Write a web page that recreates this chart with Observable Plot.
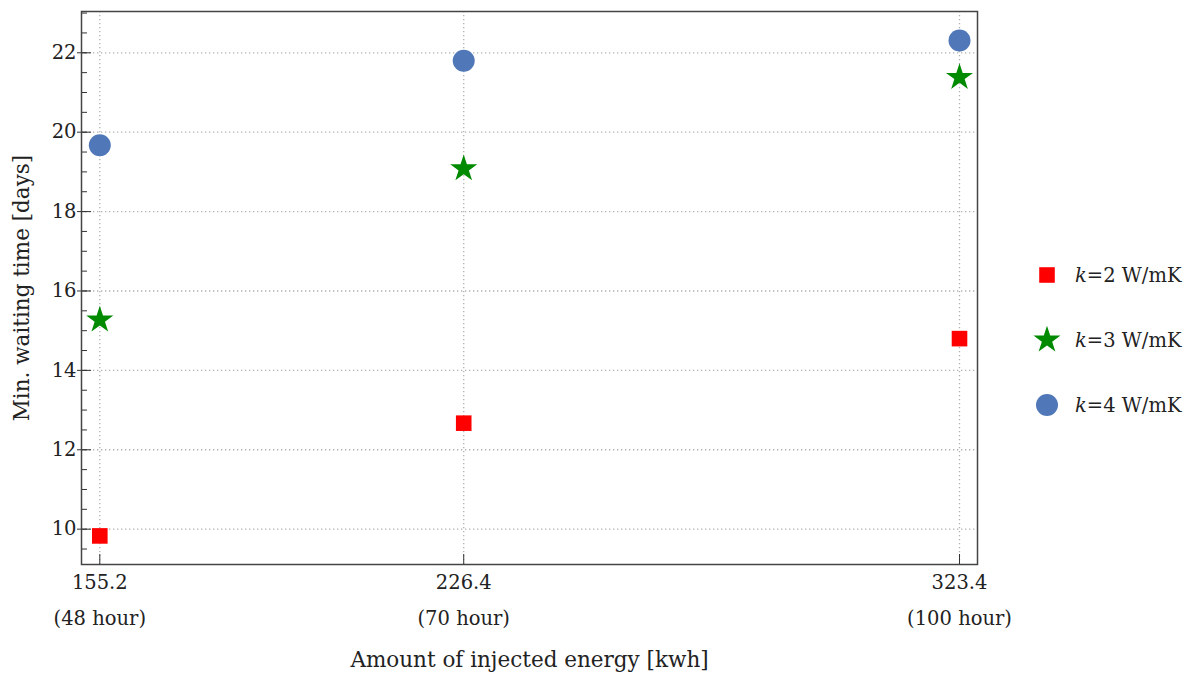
<!DOCTYPE html>
<html>
<head>
<meta charset="utf-8">
<script src="https://cdn.jsdelivr.net/npm/d3@7"></script>
<script src="https://cdn.jsdelivr.net/npm/@observablehq/plot@0.6"></script>
<style>
  body { margin: 0; background: #fff; }
  #wrap { position: relative; width: 1189px; height: 674px; font-family: "DejaVu Serif", serif; color: #222; }
  #legend { position: absolute; left: 1030px; top: 0; }
  .item { position: absolute; left: 0; height: 30px; display: flex; align-items: center; white-space: nowrap; font-size: 19.5px; }
  .item svg { width: 34px; height: 30px; margin-right: 11px; }
</style>
</head>
<body>
<div id="wrap"><div id="legend"></div></div>
<script>
// ---- data ----
const energy = [155.2, 226.4, 323.4];
const hourLabels = ["(48 hour)", "(70 hour)", "(100 hour)"];
const seriesK = [2, 3, 4];
const k2 = [9.83, 12.67, 14.80];
const k3 = [15.27, 19.08, 21.38];
const k4 = [19.67, 21.80, 22.31];
const yMajorTicks = [10, 12, 14, 16, 18, 20, 22];
const yMinorTicks = [9.5, 10, 10.5, 11, 11.5, 12, 12.5, 13, 13.5, 14, 14.5, 15, 15.5, 16, 16.5, 17, 17.5, 18, 18.5, 19, 19.5, 20, 20.5, 21, 21.5, 22, 22.5, 23];
const xLabel = "Amount of injected energy [kwh]";
const yLabel = "Min. waiting time [days]";

// ---- styles ----
const colors = ["#ff0000", "#008a00", "#5078b9"];
const symbols = ["square", "star", "circle"];
const radii = [8.8, 8.5, 11];
const d3Symbols = {square: d3.symbolSquare, star: d3.symbolStar, circle: d3.symbolCircle};

const seriesValues = [k2, k3, k4];
const seriesRows = seriesValues.map(vals => energy.map((e, i) => ({energy: e, value: vals[i]})));

const chart = Plot.plot({
  width: 1189,
  height: 674,
  marginLeft: 81,
  marginRight: 212,
  marginTop: 11,
  marginBottom: 110,
  style: {fontFamily: "'DejaVu Serif', serif", fontSize: "19.5px", color: "#222", background: "white", overflow: "visible"},
  x: {domain: [151.62, 326.92], label: null},
  y: {domain: [9.11, 23.04], label: null},
  marks: [
    Plot.gridX(energy, {stroke: "#b0b0b0", strokeOpacity: 1, strokeWidth: 1.3, strokeDasharray: "1.3 2.7"}),
    Plot.gridY(yMajorTicks, {stroke: "#b0b0b0", strokeOpacity: 1, strokeWidth: 1.3, strokeDasharray: "1.3 2.7"}),
    Plot.axisY(yMinorTicks, {tickSize: -6, tickFormat: () => "", stroke: "#333", label: null}),
    Plot.axisY(yMajorTicks, {tickSize: -10, tickPadding: 15, stroke: "#333", label: null, fontSize: 19.5}),
    Plot.axisY(yMajorTicks, {tickSize: 4, tickFormat: () => "", stroke: "#333", label: null}),
    Plot.axisX(energy, {tickSize: -10, tickPadding: 10, stroke: "#333", label: null, lineHeight: 1.8, fontSize: 19.5,
      tickFormat: d => `${d}\n${hourLabels[energy.indexOf(d)]}`}),
    Plot.frame({stroke: "#444", strokeWidth: 1.5}),
    ...seriesRows.map((rows, s) => Plot.dot(rows, {
      x: "energy", y: "value", symbol: () => symbols[s], r: radii[s],
      fill: colors[s], stroke: null
    })),
    Plot.text([xLabel], {frameAnchor: "bottom", dy: 96, text: d => d, fontSize: 21.5, fill: "#222", textAnchor: "middle", lineAnchor: "middle"}),
    Plot.text([yLabel], {frameAnchor: "left", dx: -59, rotate: -90, text: d => d, fontSize: 21.5, fill: "#222", textAnchor: "middle", lineAnchor: "middle"})
  ]
});
document.getElementById("wrap").prepend(chart);

// ---- legend ----
const legend = d3.select("#legend");
const rowY = [275, 340, 405];
seriesK.forEach((k, s) => {
  const item = legend.append("div").attr("class", "item").style("top", (rowY[s] - 15) + "px");
  const svg = item.append("svg").attr("viewBox", "-17 -15 34 30");
  svg.append("path")
    .attr("d", d3.symbol().type(d3Symbols[symbols[s]]).size(Math.PI * radii[s] * radii[s])())
    .attr("fill", colors[s]);
  const label = item.append("span");
  label.append("i").text("k");
  label.append("span").text(`=${k} W/mK`);
});
</script>
</body>
</html>
